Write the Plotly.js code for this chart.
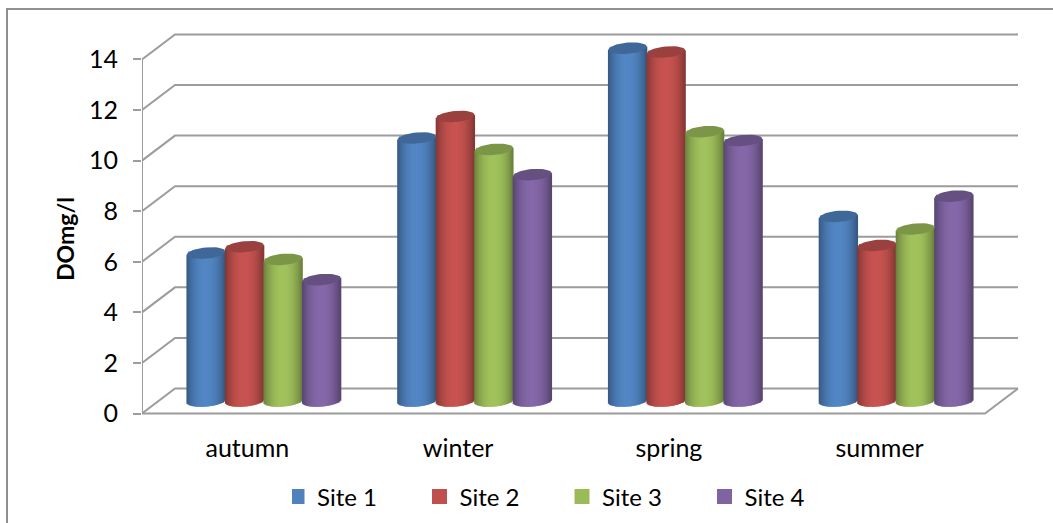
<!DOCTYPE html>
<html>
<head>
<meta charset="utf-8">
<script src="https://cdn.plot.ly/plotly-3.0.1.min.js"></script>
<style>html,body{margin:0;padding:0;background:#fff;overflow:hidden}</style>
</head>
<body>
<div id="chart" style="width:1053px;height:523px"></div>
<script>
// Dissolved oxygen by season and sampling site
const seasons = ['autumn', 'winter', 'spring', 'summer'];
const siteNames = ['Site 1', 'Site 2', 'Site 3', 'Site 4'];
const site1 = [5.85, 10.4, 13.95, 7.3];
const site2 = [6.1, 11.25, 13.8, 6.15];
const site3 = [5.6, 9.95, 10.65, 6.8];
const site4 = [4.8, 8.95, 10.3, 8.1];
const siteValues = [site1, site2, site3, site4];
const siteColors = ['#4f81bd', '#c0504d', '#9bbb59', '#8064a2'];
const axisTicks = [0, 2, 4, 6, 8, 10, 12, 14];

// Pixel geometry of the pseudo-3D box
const W = 1053, H = 523;
const M = {l: 142, r: 33, t: 24, b: 0};
const boxBottom = 454;        // lower end of the value axis domain
const plotW = W - M.l - M.r, plotH = H - M.t - M.b;
const zeroY = 413.5;          // page y of value 0 on the front edge
const pxPerUnit = 25.29;      // vertical scale
const pxPerCat = 210.75;      // horizontal scale
const depthX = 33, depthY = 25;  // offset of the back wall
const floorRight = 4;         // front edge ends after the last season
const gridColor = '#9c9c9c';

const ux = depthX / pxPerCat, uy = depthY / pxPerUnit;

// Walls and floor, drawn on the front axes
const wallX = [], wallY = [];
function seg(pts) { pts.forEach(p => { wallX.push(p[0]); wallY.push(p[1]); }); wallX.push(null); wallY.push(null); }
axisTicks.forEach(v => seg([[0, v], [ux, v + uy], [floorRight + ux, v + uy]]));
seg([[0, 0], [0, 14]]);
seg([[0, 0], [floorRight, 0], [floorRight + ux, uy]]);

const traces = [{
  type: 'scatter', mode: 'lines', x: wallX, y: wallY, showlegend: false, hoverinfo: 'skip',
  line: {color: gridColor, width: 2}, cliponaxis: false, xaxis: 'x', yaxis: 'y'
}];

// Cylinders sit half way into the depth of the box, on their own overlaid axes
const barW = 38.5, pitch = 38.5;
const rx = barW / 2 / pxPerCat, ry = 5.6 / pxPerUnit, tilt = 1.6 / pxPerUnit;
const stripCount = 39;

function shade(hex, f) {
  const c = [1, 3, 5].map(i => parseInt(hex.substr(i, 2), 16));
  return 'rgb(' + c.map(v => Math.min(255, Math.round(v * f))).join(',') + ')';
}
function barCentre(cat, site) { return cat + 0.5 + (site - 1.5) * pitch / pxPerCat; }

siteValues.forEach((vals, s) => {
  // Named series: one column per season
  traces.push({
    type: 'bar', name: siteNames[s], x: seasons.map((_, c) => barCentre(c, s)), y: vals,
    width: 0.85 * barW / pxPerCat, marker: {color: siteColors[s], line: {width: 3, color: siteColors[s]}},
    xaxis: 'x2', yaxis: 'y2', hoverinfo: 'y+name'
  });
  // Vertical strips give the rounded shading and the curved foot; they overlap to avoid seams
  const sx = [], sy = [], sb = [], sc = [];
  vals.forEach((v, c) => {
    for (let i = 0; i < stripCount; i++) {
      const u = -1 + (2 * i + 1) / stripCount;
      const foot = -ry * Math.sqrt(1 - u * u) + tilt * u;
      const top = v + tilt * u;
      sx.push(barCentre(c, s) + u * rx);
      sb.push(foot);
      sy.push(top - foot);
      sc.push(shade(siteColors[s], 0.68 + 0.36 * (1 - Math.pow(Math.abs(u), 2.2))));
    }
  });
  traces.push({
    type: 'bar', x: sx, y: sy, base: sb, width: 2 * rx / stripCount * 1.9, showlegend: false, hoverinfo: 'skip',
    marker: {color: sc, line: {width: 0}}, xaxis: 'x2', yaxis: 'y2'
  });
});

// Elliptical lids on top of every cylinder
siteValues.forEach((vals, s) => {
  const lx = [], ly = [];
  vals.forEach((v, c) => {
    for (let a = 0; a <= 40; a++) {
      const t = a / 40 * 2 * Math.PI;
      lx.push(barCentre(c, s) + rx * Math.cos(t));
      ly.push(v + ry * Math.sin(t) + tilt * Math.cos(t));
    }
    lx.push(null); ly.push(null);
  });
  traces.push({
    type: 'scatter', mode: 'lines', x: lx, y: ly, fill: 'toself', fillcolor: shade(siteColors[s], 0.8),
    line: {width: 0, color: shade(siteColors[s], 0.8)}, showlegend: false, hoverinfo: 'skip',
    xaxis: 'x2', yaxis: 'y2'
  });
});

const paperX = px => (px - M.l) / plotW;
const paperY = py => (H - M.b - py) / plotH;
const domainY = [paperY(boxBottom), 1];

const font = 'Lato, "Liberation Sans", sans-serif';
const layout = {
  width: W, height: H,
  margin: M,
  paper_bgcolor: '#fff', plot_bgcolor: 'rgba(0,0,0,0)',
  barmode: 'overlay',
  font: {family: font, color: '#000'},
  showlegend: true,
  legend: {
    orientation: 'h', x: paperX(292), y: paperY(497), xanchor: 'left', yanchor: 'middle',
    font: {size: 24, family: font}, entrywidth: 112.5, entrywidthmode: 'pixels', traceorder: 'normal',
    indentation: -15, itemclick: false, itemdoubleclick: false, bgcolor: 'rgba(0,0,0,0)'
  },
  xaxis: {
    range: [0, plotW / pxPerCat], anchor: 'free', position: paperY(zeroY),
    tickmode: 'array', tickvals: seasons.map((_, i) => i + 0.5), ticktext: seasons,
    showgrid: false, zeroline: false, showline: false, ticks: '', ticklabelstandoff: 17,
    tickfont: {size: 25, family: font}, fixedrange: true
  },
  yaxis: {
    domain: domainY,
    range: [-(boxBottom - zeroY) / pxPerUnit, (zeroY - M.t) / pxPerUnit],
    tickmode: 'array', tickvals: axisTicks,
    showgrid: false, zeroline: false, showline: false,
    ticks: 'outside', ticklen: 8, tickwidth: 2, tickcolor: gridColor,
    ticklabelstandoff: 10, tickfont: {size: 25, family: font}, fixedrange: true,
    title: {text: '<b>DOmg/l</b>', font: {size: 23, family: font}, standoff: 7}
  },
  xaxis2: {
    overlaying: 'x', visible: false, fixedrange: true,
    range: [-depthX / 2 / pxPerCat, (plotW - depthX / 2) / pxPerCat]
  },
  yaxis2: {
    domain: domainY, overlaying: 'y', visible: false, fixedrange: true,
    range: [-(boxBottom - zeroY + depthY / 2) / pxPerUnit, (zeroY - depthY / 2 - M.t) / pxPerUnit]
  },
  shapes: [{
    type: 'path', xref: 'paper', yref: 'paper', layer: 'below',
    path: 'M ' + paperX(7) + ' ' + paperY(540) + ' L ' + paperX(7) + ' ' + paperY(9) + ' L ' + paperX(1070) + ' ' + paperY(9),
    line: {color: '#8f8f8f', width: 2}
  }]
};

Plotly.newPlot('chart', traces, layout, {staticPlot: true, displayModeBar: false});
</script>
</body>
</html>
